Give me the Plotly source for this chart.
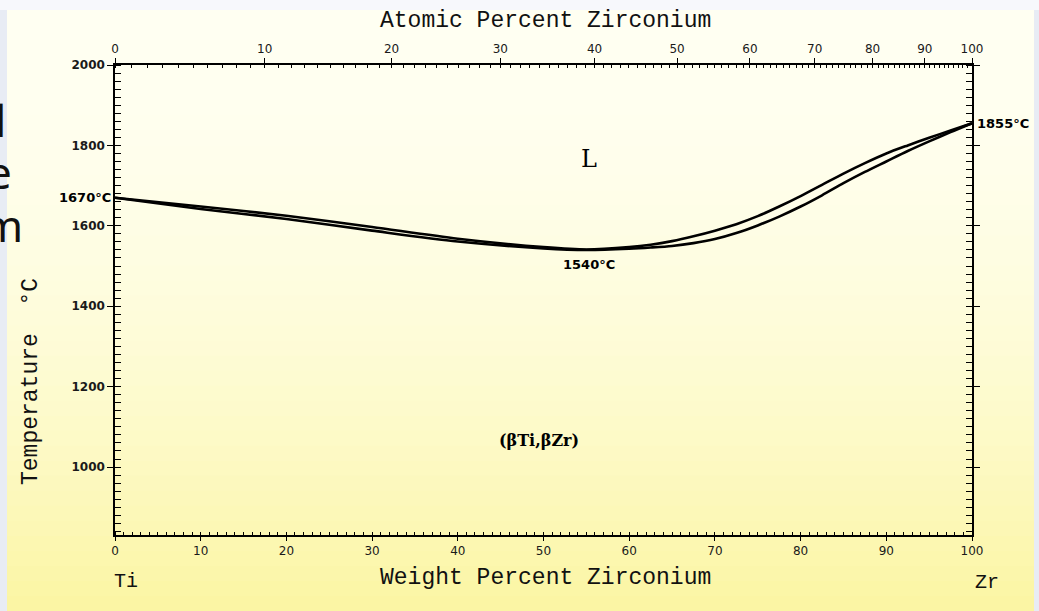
import plotly.graph_objects as go

# ---------------- data ----------------
wt_pct = [0, 10, 20, 30, 40, 50, 55, 60, 62.5, 65, 67.5, 70, 72.5, 75, 77.5, 80, 82.5, 85, 87.5, 90, 92.5, 95, 97.5, 100]
liquidus = [1670, 1648, 1625, 1597, 1568, 1547, 1541, 1547, 1553, 1562, 1574, 1588, 1604, 1624, 1648, 1674, 1702,
            1730, 1756, 1780, 1800, 1819, 1837, 1855]
solidus = [1670, 1642, 1617, 1588, 1561, 1544, 1540, 1543, 1546, 1550, 1557, 1567, 1582, 1601, 1623, 1648, 1676,
           1706, 1734, 1760, 1786, 1810, 1833, 1855]

y_ticks = [1000, 1200, 1400, 1600, 1800, 2000]
wt_ticks = [0, 10, 20, 30, 40, 50, 60, 70, 80, 90, 100]
at_ticks = [0, 10, 20, 30, 40, 50, 60, 70, 80, 90, 100]
M_TI, M_ZR = 47.867, 91.224


def at_to_wt(a):
    return 100.0 * a * M_ZR / (a * M_ZR + (100 - a) * M_TI)


W, H = 1039, 611
L_M, R_M, T_M, B_M = 115, 67, 65, 76
PW, PH = W - L_M - R_M, H - T_M - B_M


def px(x):
    return (x - L_M) / PW


def py(y):
    return (H - B_M - y) / PH


fig = go.Figure()

line_style = dict(color="black", width=2.6, shape="spline", smoothing=0.8)
fig.add_trace(go.Scatter(x=wt_pct, y=liquidus, mode="lines", line=line_style, hoverinfo="skip", showlegend=False))
fig.add_trace(go.Scatter(x=wt_pct, y=solidus, mode="lines", line=line_style, hoverinfo="skip", showlegend=False))
# invisible trace for top axis
fig.add_trace(go.Scatter(x=[0, 100], y=[2000, 2000], xaxis="x2", mode="lines", line=dict(width=0),
                         hoverinfo="skip", showlegend=False))

title_font = "Liberation Mono"
xtick_font = dict(family="DejaVu Sans", size=12, color="#1a1a1a")

fig.update_layout(
    width=W, height=H,
    margin=dict(l=L_M, r=R_M, t=T_M, b=B_M),
    paper_bgcolor="#E8ECF4",
    plot_bgcolor="rgba(0,0,0,0)",
    xaxis=dict(range=[0, 100], tickvals=wt_ticks, ticktext=[str(v) for v in wt_ticks], showgrid=False, zeroline=False,
               showline=True, linecolor="black", linewidth=1.5, ticks="outside", ticklen=4, tickcolor="black",
               tickfont=xtick_font,
               minor=dict(dtick=1, ticks="inside", ticklen=3, tickcolor="black", showgrid=False)),
    xaxis2=dict(range=[0, 100], overlaying="x", side="top", anchor="y",
                tickvals=[at_to_wt(a) for a in at_ticks], ticktext=[str(a) for a in at_ticks],
                showgrid=False, zeroline=False, showline=True, linecolor="black", linewidth=1.5,
                ticks="outside", ticklen=5, tickcolor="black", tickfont=xtick_font,
                minor=dict(tickvals=[at_to_wt(a) for a in range(0, 101)], ticks="inside", ticklen=3,
                           tickcolor="black", showgrid=False)),
    yaxis=dict(range=[831, 2000], tickvals=y_ticks, showgrid=False, zeroline=False, showline=True, linecolor="black",
               linewidth=1.5, mirror="allticks", ticks="outside", ticklen=6, tickcolor="black",
               tickfont=dict(family="DejaVu Sans", size=12, color="#1a1a1a", weight="bold"),
               minor=dict(dtick=20, tick0=800, ticks="inside", ticklen=3, tickcolor="black", showgrid=False)),
)

# background gradient panel (decorative)
top_c = (255, 255, 242)
bot_c = (251, 245, 162)
n = 40
y0p, y1p = 10, H
x0p, x1p = 7, 1034
for i in range(n):
    t = (i + 0.5) / n
    f = t ** 1.8
    c = tuple(int(round(top_c[k] + (bot_c[k] - top_c[k]) * f)) for k in range(3))
    ya = y0p + (y1p - y0p) * i / n
    yb = y0p + (y1p - y0p) * (i + 1) / n + 1
    fig.add_shape(type="rect", xref="paper", yref="paper", x0=px(x0p), x1=px(x1p), y0=py(yb), y1=py(ya),
                  fillcolor="rgb(%d,%d,%d)" % c, line=dict(width=0), layer="below")
fig.add_shape(type="rect", xref="paper", yref="paper", x0=px(0), x1=px(W), y0=py(10), y1=py(0),
              fillcolor="#F7F8FC", line=dict(width=0), layer="below")

for txt, yy in [("Atomic Percent Zirconium", 21), ("Weight Percent Zirconium", 578)]:
    fig.add_annotation(text=txt, xref="paper", yref="paper", x=px(545), y=py(yy), showarrow=False,
                       font=dict(family=title_font, size=23, color="#111"), xanchor="center", yanchor="middle")
fig.add_annotation(text="Temperature  °C", xref="paper", yref="paper", x=px(31), y=py(382), textangle=-90,
                   showarrow=False, font=dict(family=title_font, size=23, color="#111"),
                   xanchor="center", yanchor="middle")
fig.add_annotation(text="Ti", xref="paper", yref="paper", x=px(126), y=py(581), showarrow=False,
                   xanchor="center", yanchor="middle", font=dict(family=title_font, size=20, color="#111"))
fig.add_annotation(text="Zr", xref="paper", yref="paper", x=px(987), y=py(582), showarrow=False,
                   xanchor="center", yanchor="middle", font=dict(family=title_font, size=20, color="#111"))

lab_font = dict(family="DejaVu Sans", size=13, color="black", weight="bold")
fig.add_annotation(text="1670°C", x=0, y=1670, xref="x", yref="y", xanchor="right", xshift=-2, showarrow=False,
                   font=lab_font)
fig.add_annotation(text="1855°C", x=100, y=1855, xref="x", yref="y", xanchor="left", xshift=3, showarrow=False,
                   font=lab_font)
fig.add_annotation(text="1540°C", x=55.3, y=1503, xref="x", yref="y", showarrow=False, font=lab_font)
fig.add_annotation(text="L", x=55.3, y=1765, xref="x", yref="y", showarrow=False,
                   font=dict(family="DejaVu Serif", size=24, color="black"))
fig.add_annotation(text="(βTi,βZr)", x=49.5, y=1065, xref="x", yref="y", showarrow=False,
                   font=dict(family="DejaVu Serif", size=16, color="black", weight="bold"))

# slide text fragments at left edge
for txt, yy, xx in [("l", 120, 8), ("e", 172, 14), ("m", 225, 25)]:
    fig.add_annotation(text=txt, xref="paper", yref="paper", x=px(xx), y=py(yy), xanchor="right", yanchor="middle",
                       showarrow=False, font=dict(family="Noto Sans", size=44, color="#111"))

fig.write_html("out.html", config={"displayModeBar": False},
               post_script="document.body.style.margin='0';document.body.style.overflow='hidden';")
